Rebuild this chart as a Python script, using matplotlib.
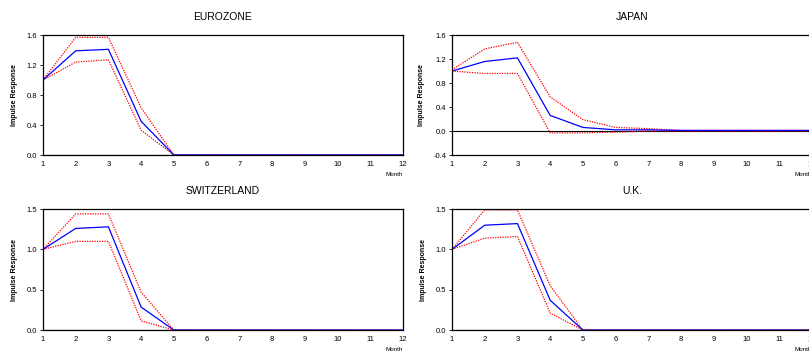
import matplotlib.pyplot as plt
import numpy as np

plt.rcParams['font.family'] = ['Liberation Sans', 'DejaVu Sans']

months = [1, 2, 3, 4, 5, 6, 7, 8, 9, 10, 11, 12]

euro_irf = [1.0, 1.39, 1.41, 0.45, 0.0, 0, 0, 0, 0, 0, 0, 0]
euro_up = [1.0, 1.57, 1.57, 0.63, 0.0, 0, 0, 0, 0, 0, 0, 0]
euro_lo = [1.0, 1.24, 1.27, 0.33, 0.0, 0, 0, 0, 0, 0, 0, 0]

japan_irf = [1.0, 1.16, 1.22, 0.26, 0.06, 0.02, 0.02, 0.01, 0.01, 0.01, 0.01, 0.01]
japan_up = [1.02, 1.37, 1.48, 0.57, 0.19, 0.06, 0.04, 0.01, 0.01, 0.01, 0.01, 0.01]
japan_lo = [1.0, 0.96, 0.96, -0.03, -0.03, -0.02, 0.0, 0.0, 0.0, 0.0, 0.0, 0.0]

swiss_irf = [1.0, 1.26, 1.28, 0.285, 0.0, 0, 0, 0, 0, 0, 0, 0]
swiss_up = [1.0, 1.44, 1.44, 0.47, 0.0, 0, 0, 0, 0, 0, 0, 0]
swiss_lo = [1.0, 1.10, 1.10, 0.115, 0.0, 0, 0, 0, 0, 0, 0, 0]

uk_irf = [1.0, 1.30, 1.32, 0.37, 0.0, 0, 0, 0, 0, 0, 0, 0]
uk_up = [1.0, 1.49, 1.49, 0.55, 0.0, 0, 0, 0, 0, 0, 0, 0]
uk_lo = [1.0, 1.14, 1.16, 0.21, 0.0, 0, 0, 0, 0, 0, 0, 0]

panels = [
    ('EUROZONE', euro_irf, euro_up, euro_lo, [0.0531, 0.567, 0.445, 0.335], (0, 1.6), [0.0, 0.4, 0.8, 1.2, 1.6]),
    ('JAPAN', japan_irf, japan_up, japan_lo, [0.5587, 0.567, 0.445, 0.335], (-0.4, 1.6), [-0.4, 0.0, 0.4, 0.8, 1.2, 1.6]),
    ('SWITZERLAND', swiss_irf, swiss_up, swiss_lo, [0.0531, 0.078, 0.445, 0.338], (0, 1.5), [0.0, 0.5, 1.0, 1.5]),
    ('U.K.', uk_irf, uk_up, uk_lo, [0.5587, 0.078, 0.445, 0.338], (0, 1.5), [0.0, 0.5, 1.0, 1.5]),
]

fig = plt.figure(figsize=(8.09, 3.58), dpi=100)

for titulo, irf, up, lo, pos, ylim, yt in panels:
    ax = fig.add_axes(pos)
    ax.axhline(0, color='black', lw=0.8, zorder=1)
    # bandas de confiança (vermelho pontilhado) e resposta (azul)
    ax.plot(months, up, color='red', ls=(0, (1, 1)), lw=0.9)
    ax.plot(months, lo, color='red', ls=(0, (1, 1)), lw=0.9)
    ax.plot(months, irf, color='blue', lw=0.9)
    ax.set_xlim(1, 12)
    ax.set_ylim(*ylim)
    ax.set_xticks(months)
    ax.set_yticks(yt)
    ax.set_yticklabels(['%.1f' % v for v in yt])
    ax.tick_params(labelsize=5.5, length=2, width=0.6, pad=2)
    ax.tick_params(axis='x', length=0, pad=4)
    for s in ax.spines.values():
        s.set_linewidth(0.9)
    ax.set_title(titulo, fontsize=7.5, pad=11)
    ax.set_ylabel('Impulse Response', fontsize=5, fontweight='bold', labelpad=6)
    ax.text(1.0, -0.14, 'Month', transform=ax.transAxes, ha='right', va='top', fontsize=4.5)

fig.savefig('out.png', dpi=100)
